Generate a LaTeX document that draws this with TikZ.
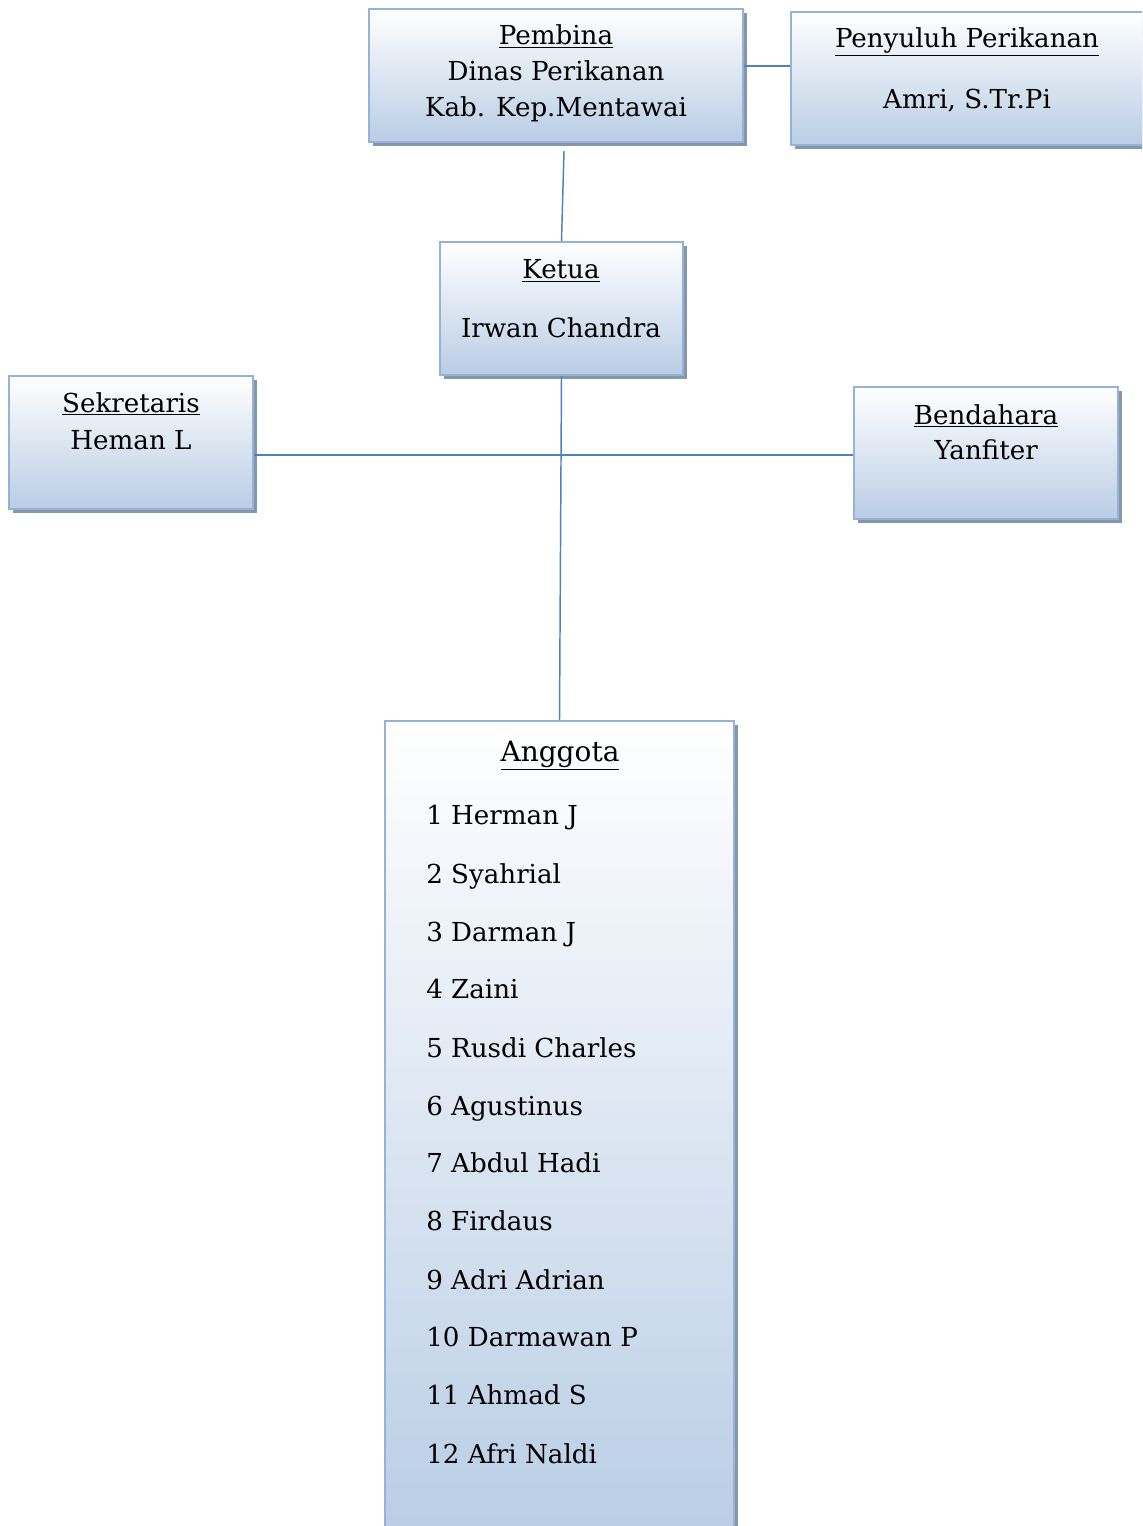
\documentclass[tikz,border=0pt]{standalone}
\usepackage{fontspec}
\setmainfont{DejaVu Serif}
\usetikzlibrary{shadows}
\definecolor{bordc}{RGB}{149,179,215}
\definecolor{boxblue}{RGB}{185,205,229}
\definecolor{shadowc}{RGB}{136,150,172}
\definecolor{linec}{RGB}{79,129,189}
\newcommand{\ul}[1]{\underline{#1}}
\tikzset{
  orgbox/.style={rectangle, draw=bordc, line width=1.5pt, top color=white, bottom color=boxblue, inner sep=0pt,
    drop shadow={shadow xshift=2.8pt, shadow yshift=-2.8pt, fill=shadowc, opacity=1}},
  lbl/.style={anchor=base, inner sep=0pt, font=\fontsize{19.6}{23}\selectfont},
  lbll/.style={anchor=base west, inner sep=0pt, font=\fontsize{19.6}{23}\selectfont},
  conn/.style={draw=linec, line width=1.1pt}
}
\begin{document}
\begin{tikzpicture}[x=0.75pt,y=-0.75pt]
\useasboundingbox (0,0) rectangle (1142,1526);
\clip (0,0) rectangle (1142,1526);
\fill[white] (0,0) rectangle (1142,1526);
% boxes
\node[orgbox, minimum width=280.5pt, minimum height=99.75pt] (pembina) at (556,75.5) {};
\node[orgbox, minimum width=269.25pt, minimum height=99.75pt] (penyuluh) at (970.5,78.5) {};
\node[orgbox, minimum width=182.25pt, minimum height=99.75pt] (ketua) at (561.5,308.5) {};
\node[orgbox, minimum width=183pt, minimum height=99.75pt] (sekretaris) at (131,442.5) {};
\node[orgbox, minimum width=198pt, minimum height=99pt] (bendahara) at (986,453) {};
\node[orgbox, minimum width=261.75pt, minimum height=614.25pt] (anggota) at (559.5,1130.5) {};
% connectors
\coordinate (c66) at (0,66);
\coordinate (c455) at (0,455);
\coordinate (p1) at (564,151);
\draw[conn] (pembina.east |- c66) -- (penyuluh.west |- c66);
\draw[conn] (p1) -- (ketua.north);
\draw[conn] (ketua.south) -- (anggota.north);
\draw[conn] (sekretaris.east |- c455) -- (bendahara.west |- c455);
% texts
\node[lbl] (t1) at (556,45) {\ul{Pembina}};
\node[lbl] (t2) at (556,81) {Dinas Perikanan};
\node[lbl] (t3) at (556,117) {Kab. Kep.Mentawai};
\node[lbl] (t4) at (967,48) {\ul{Penyuluh Perikanan}};
\node[lbl] (t5) at (967,109) {Amri, S.Tr.Pi};
\node[lbl] (t6) at (561,279) {\ul{Ketua}};
\node[lbl] (t7) at (561,337) {Irwan Chandra};
\node[lbl] (t8) at (131,412) {\ul{Sekretaris}};
\node[lbl] (t9) at (131,449) {Heman L};
\node[lbl] (t10) at (986,424) {\ul{Bendahara}};
\node[lbl] (t11) at (986,459) {Yanfiter};
\node[lbl, font=\fontsize{21}{25}\selectfont] (t12) at (560,761) {\ul{Anggota}};
\node[lbll] (a1) at (426,824) {1 Herman J};
\node[lbll] (a2) at (426,883) {2 Syahrial};
\node[lbll] (a3) at (426,941) {3 Darman J};
\node[lbll] (a4) at (426,998) {4 Zaini};
\node[lbll] (a5) at (426,1057) {5 Rusdi Charles};
\node[lbll] (a6) at (426,1115) {6 Agustinus};
\node[lbll] (a7) at (426,1172) {7 Abdul Hadi};
\node[lbll] (a8) at (426,1230) {8 Firdaus};
\node[lbll] (a9) at (426,1289) {9 Adri Adrian};
\node[lbll] (a10) at (426,1346) {10 Darmawan P};
\node[lbll] (a11) at (426,1404) {11 Ahmad S};
\node[lbll] (a12) at (426,1463) {12 Afri Naldi};
\end{tikzpicture}
\end{document}
